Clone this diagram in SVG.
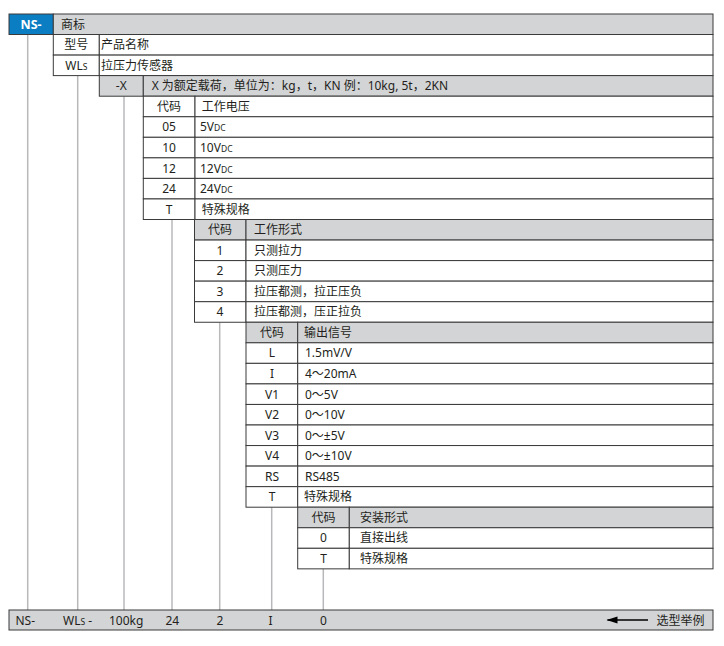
<svg xmlns="http://www.w3.org/2000/svg" width="724" height="646" viewBox="0 0 724 646">
<style>
  .g{fill:#d3d4d6;stroke:#3a3a3a;stroke-width:1}
  .w{fill:#ffffff;stroke:#3a3a3a;stroke-width:1}
  .b{fill:#0b7dc3;stroke:#3a3a3a;stroke-width:1}
  text{font-family:"Noto Sans","Noto Sans CJK SC",sans-serif;font-size:12px;fill:#231f20}
  .c{text-anchor:middle}
  .nsb{fill:#ffffff;font-weight:bold;font-size:12.5px}
  .conn line{stroke:#b8b8bb;stroke-width:1.5}
  .sm{font-size:8.5px}
</style>
<defs>
  <marker id="ah" markerWidth="12" markerHeight="8" refX="10" refY="4" orient="auto" markerUnits="userSpaceOnUse">
    <path d="M0,0.6 L11,4 L0,7.4 Z" fill="#000"/>
  </marker>
</defs>

<g id="connectors" class="conn">
  <line x1="27.7" y1="34.5" x2="27.7" y2="610"/>
  <line x1="77.7" y1="75.6" x2="77.7" y2="610"/>
  <line x1="124" y1="96.2" x2="124" y2="610"/>
  <line x1="172" y1="219.5" x2="172" y2="610"/>
  <line x1="219.7" y1="322.2" x2="219.7" y2="610"/>
  <line x1="271.7" y1="507.2" x2="271.7" y2="610"/>
  <line x1="323.3" y1="568.8" x2="323.3" y2="610"/>
</g>

<g id="brand">
  <rect class="b" x="9" y="14" width="44.3" height="20.5"/>
  <rect class="g" x="53.3" y="14" width="659.7" height="20.5"/>
  <text class="c nsb" x="31" y="28.8">NS-</text>
  <text x="61" y="28.8">商标</text>
</g>

<g id="model">
  <rect class="w" x="53.3" y="34.5" width="46" height="20.6"/>
  <rect class="w" x="99.3" y="34.5" width="613.7" height="20.6"/>
  <text class="c" x="76.3" y="49.2">型号</text>
  <text x="101" y="49.2">产品名称</text>
  <rect class="w" x="53.3" y="55.1" width="46" height="20.5"/>
  <rect class="w" x="99.3" y="55.1" width="613.7" height="20.5"/>
  <text class="c" x="76.3" y="69.7">WL<tspan class="sm">S</tspan></text>
  <text x="101" y="69.7">拉压力传感器</text>
</g>

<g id="capacity">
  <rect class="g" x="99.3" y="75.6" width="44" height="20.6"/>
  <rect class="g" x="143.3" y="75.6" width="569.7" height="20.6"/>
  <text class="c" x="121.3" y="90.3">-X</text>
  <text x="151.7" y="90.3">X 为额定载荷，单位为：kg，t，KN 例：10kg, 5t，2KN</text>
</g>

<g id="voltage">
  <rect class="w" x="143.3" y="96.2" width="51.7" height="20.55"/>
  <rect class="w" x="195" y="96.2" width="518" height="20.55"/>
  <text class="c" x="169" y="110.8">代码</text>
  <text x="201.7" y="110.8">工作电压</text>
  <rect class="w" x="143.3" y="116.75" width="51.7" height="20.55"/>
  <rect class="w" x="195" y="116.75" width="518" height="20.55"/>
  <text class="c" x="169" y="131.4">05</text>
  <text x="200" y="131.4">5V<tspan class="sm">DC</tspan></text>
  <rect class="w" x="143.3" y="137.3" width="51.7" height="20.55"/>
  <rect class="w" x="195" y="137.3" width="518" height="20.55"/>
  <text class="c" x="169" y="151.9">10</text>
  <text x="200" y="151.9">10V<tspan class="sm">DC</tspan></text>
  <rect class="w" x="143.3" y="157.85" width="51.7" height="20.55"/>
  <rect class="w" x="195" y="157.85" width="518" height="20.55"/>
  <text class="c" x="169" y="172.5">12</text>
  <text x="200" y="172.5">12V<tspan class="sm">DC</tspan></text>
  <rect class="w" x="143.3" y="178.4" width="51.7" height="20.55"/>
  <rect class="w" x="195" y="178.4" width="518" height="20.55"/>
  <text class="c" x="169" y="193">24</text>
  <text x="200" y="193">24V<tspan class="sm">DC</tspan></text>
  <rect class="w" x="143.3" y="198.95" width="51.7" height="20.55"/>
  <rect class="w" x="195" y="198.95" width="518" height="20.55"/>
  <text class="c" x="169" y="213.6">T</text>
  <text x="201.7" y="213.6">特殊规格</text>
</g>

<g id="mode">
  <rect class="g" x="194.5" y="219.5" width="51.5" height="20.55"/>
  <rect class="g" x="246" y="219.5" width="467" height="20.55"/>
  <text class="c" x="220" y="234.1">代码</text>
  <text x="254" y="234.1">工作形式</text>
  <rect class="w" x="194.5" y="240.05" width="51.5" height="20.55"/>
  <rect class="w" x="246" y="240.05" width="467" height="20.55"/>
  <text class="c" x="220" y="254.7">1</text>
  <text x="254" y="254.7">只测拉力</text>
  <rect class="w" x="194.5" y="260.6" width="51.5" height="20.55"/>
  <rect class="w" x="246" y="260.6" width="467" height="20.55"/>
  <text class="c" x="220" y="275.2">2</text>
  <text x="254" y="275.2">只测压力</text>
  <rect class="w" x="194.5" y="281.15" width="51.5" height="20.55"/>
  <rect class="w" x="246" y="281.15" width="467" height="20.55"/>
  <text class="c" x="220" y="295.8">3</text>
  <text x="254" y="295.8">拉压都测，拉正压负</text>
  <rect class="w" x="194.5" y="301.7" width="51.5" height="20.55"/>
  <rect class="w" x="246" y="301.7" width="467" height="20.55"/>
  <text class="c" x="220" y="316.3">4</text>
  <text x="254" y="316.3">拉压都测，压正拉负</text>
</g>

<g id="output">
  <rect class="g" x="246" y="322.25" width="51.7" height="20.55"/>
  <rect class="g" x="297.7" y="322.25" width="415.3" height="20.55"/>
  <text class="c" x="272" y="336.9">代码</text>
  <text x="304" y="336.9">输出信号</text>
  <rect class="w" x="246" y="342.8" width="51.7" height="20.55"/>
  <rect class="w" x="297.7" y="342.8" width="415.3" height="20.55"/>
  <text class="c" x="272" y="357.4">L</text>
  <text x="305" y="357.4">1.5mV/V</text>
  <rect class="w" x="246" y="363.35" width="51.7" height="20.55"/>
  <rect class="w" x="297.7" y="363.35" width="415.3" height="20.55"/>
  <text class="c" x="272" y="378">I</text>
  <text x="305" y="378">4～20mA</text>
  <rect class="w" x="246" y="383.9" width="51.7" height="20.55"/>
  <rect class="w" x="297.7" y="383.9" width="415.3" height="20.55"/>
  <text class="c" x="272" y="398.5">V1</text>
  <text x="305" y="398.5">0～5V</text>
  <rect class="w" x="246" y="404.45" width="51.7" height="20.55"/>
  <rect class="w" x="297.7" y="404.45" width="415.3" height="20.55"/>
  <text class="c" x="272" y="419.1">V2</text>
  <text x="305" y="419.1">0～10V</text>
  <rect class="w" x="246" y="425" width="51.7" height="20.55"/>
  <rect class="w" x="297.7" y="425" width="415.3" height="20.55"/>
  <text class="c" x="272" y="439.6">V3</text>
  <text x="305" y="439.6">0～±5V</text>
  <rect class="w" x="246" y="445.55" width="51.7" height="20.55"/>
  <rect class="w" x="297.7" y="445.55" width="415.3" height="20.55"/>
  <text class="c" x="272" y="460.2">V4</text>
  <text x="305" y="460.2">0～±10V</text>
  <rect class="w" x="246" y="466.1" width="51.7" height="20.55"/>
  <rect class="w" x="297.7" y="466.1" width="415.3" height="20.55"/>
  <text class="c" x="272" y="480.7">RS</text>
  <text x="305" y="480.7">RS485</text>
  <rect class="w" x="246" y="486.65" width="51.7" height="20.55"/>
  <rect class="w" x="297.7" y="486.65" width="415.3" height="20.55"/>
  <text class="c" x="272" y="501.3">T</text>
  <text x="304" y="501.3">特殊规格</text>
</g>

<g id="mounting">
  <rect class="g" x="297.7" y="507.2" width="51.6" height="20.55"/>
  <rect class="g" x="349.3" y="507.2" width="363.7" height="20.55"/>
  <text class="c" x="323.5" y="521.8">代码</text>
  <text x="360" y="521.8">安装形式</text>
  <rect class="w" x="297.7" y="527.75" width="51.6" height="20.55"/>
  <rect class="w" x="349.3" y="527.75" width="363.7" height="20.55"/>
  <text class="c" x="323.5" y="542.4">0</text>
  <text x="360" y="542.4">直接出线</text>
  <rect class="w" x="297.7" y="548.3" width="51.6" height="20.55"/>
  <rect class="w" x="349.3" y="548.3" width="363.7" height="20.55"/>
  <text class="c" x="323.5" y="562.9">T</text>
  <text x="360" y="562.9">特殊规格</text>
</g>

<g id="example">
  <rect class="g" x="9" y="610" width="704" height="20"/>
  <text x="15.5" y="624.5">NS-</text>
  <text x="63" y="624.5">WL<tspan class="sm">S</tspan> -</text>
  <text x="109" y="624.5">100kg</text>
  <text x="165.5" y="624.5">24</text>
  <text x="216.5" y="624.5">2</text>
  <text x="268.5" y="624.5">I</text>
  <text x="320" y="624.5">0</text>
  <line x1="648" y1="620" x2="607.5" y2="620" stroke="#000" stroke-width="1.5" marker-end="url(#ah)"/>
  <text x="656.5" y="624.5">选型举例</text>
</g>
</svg>
